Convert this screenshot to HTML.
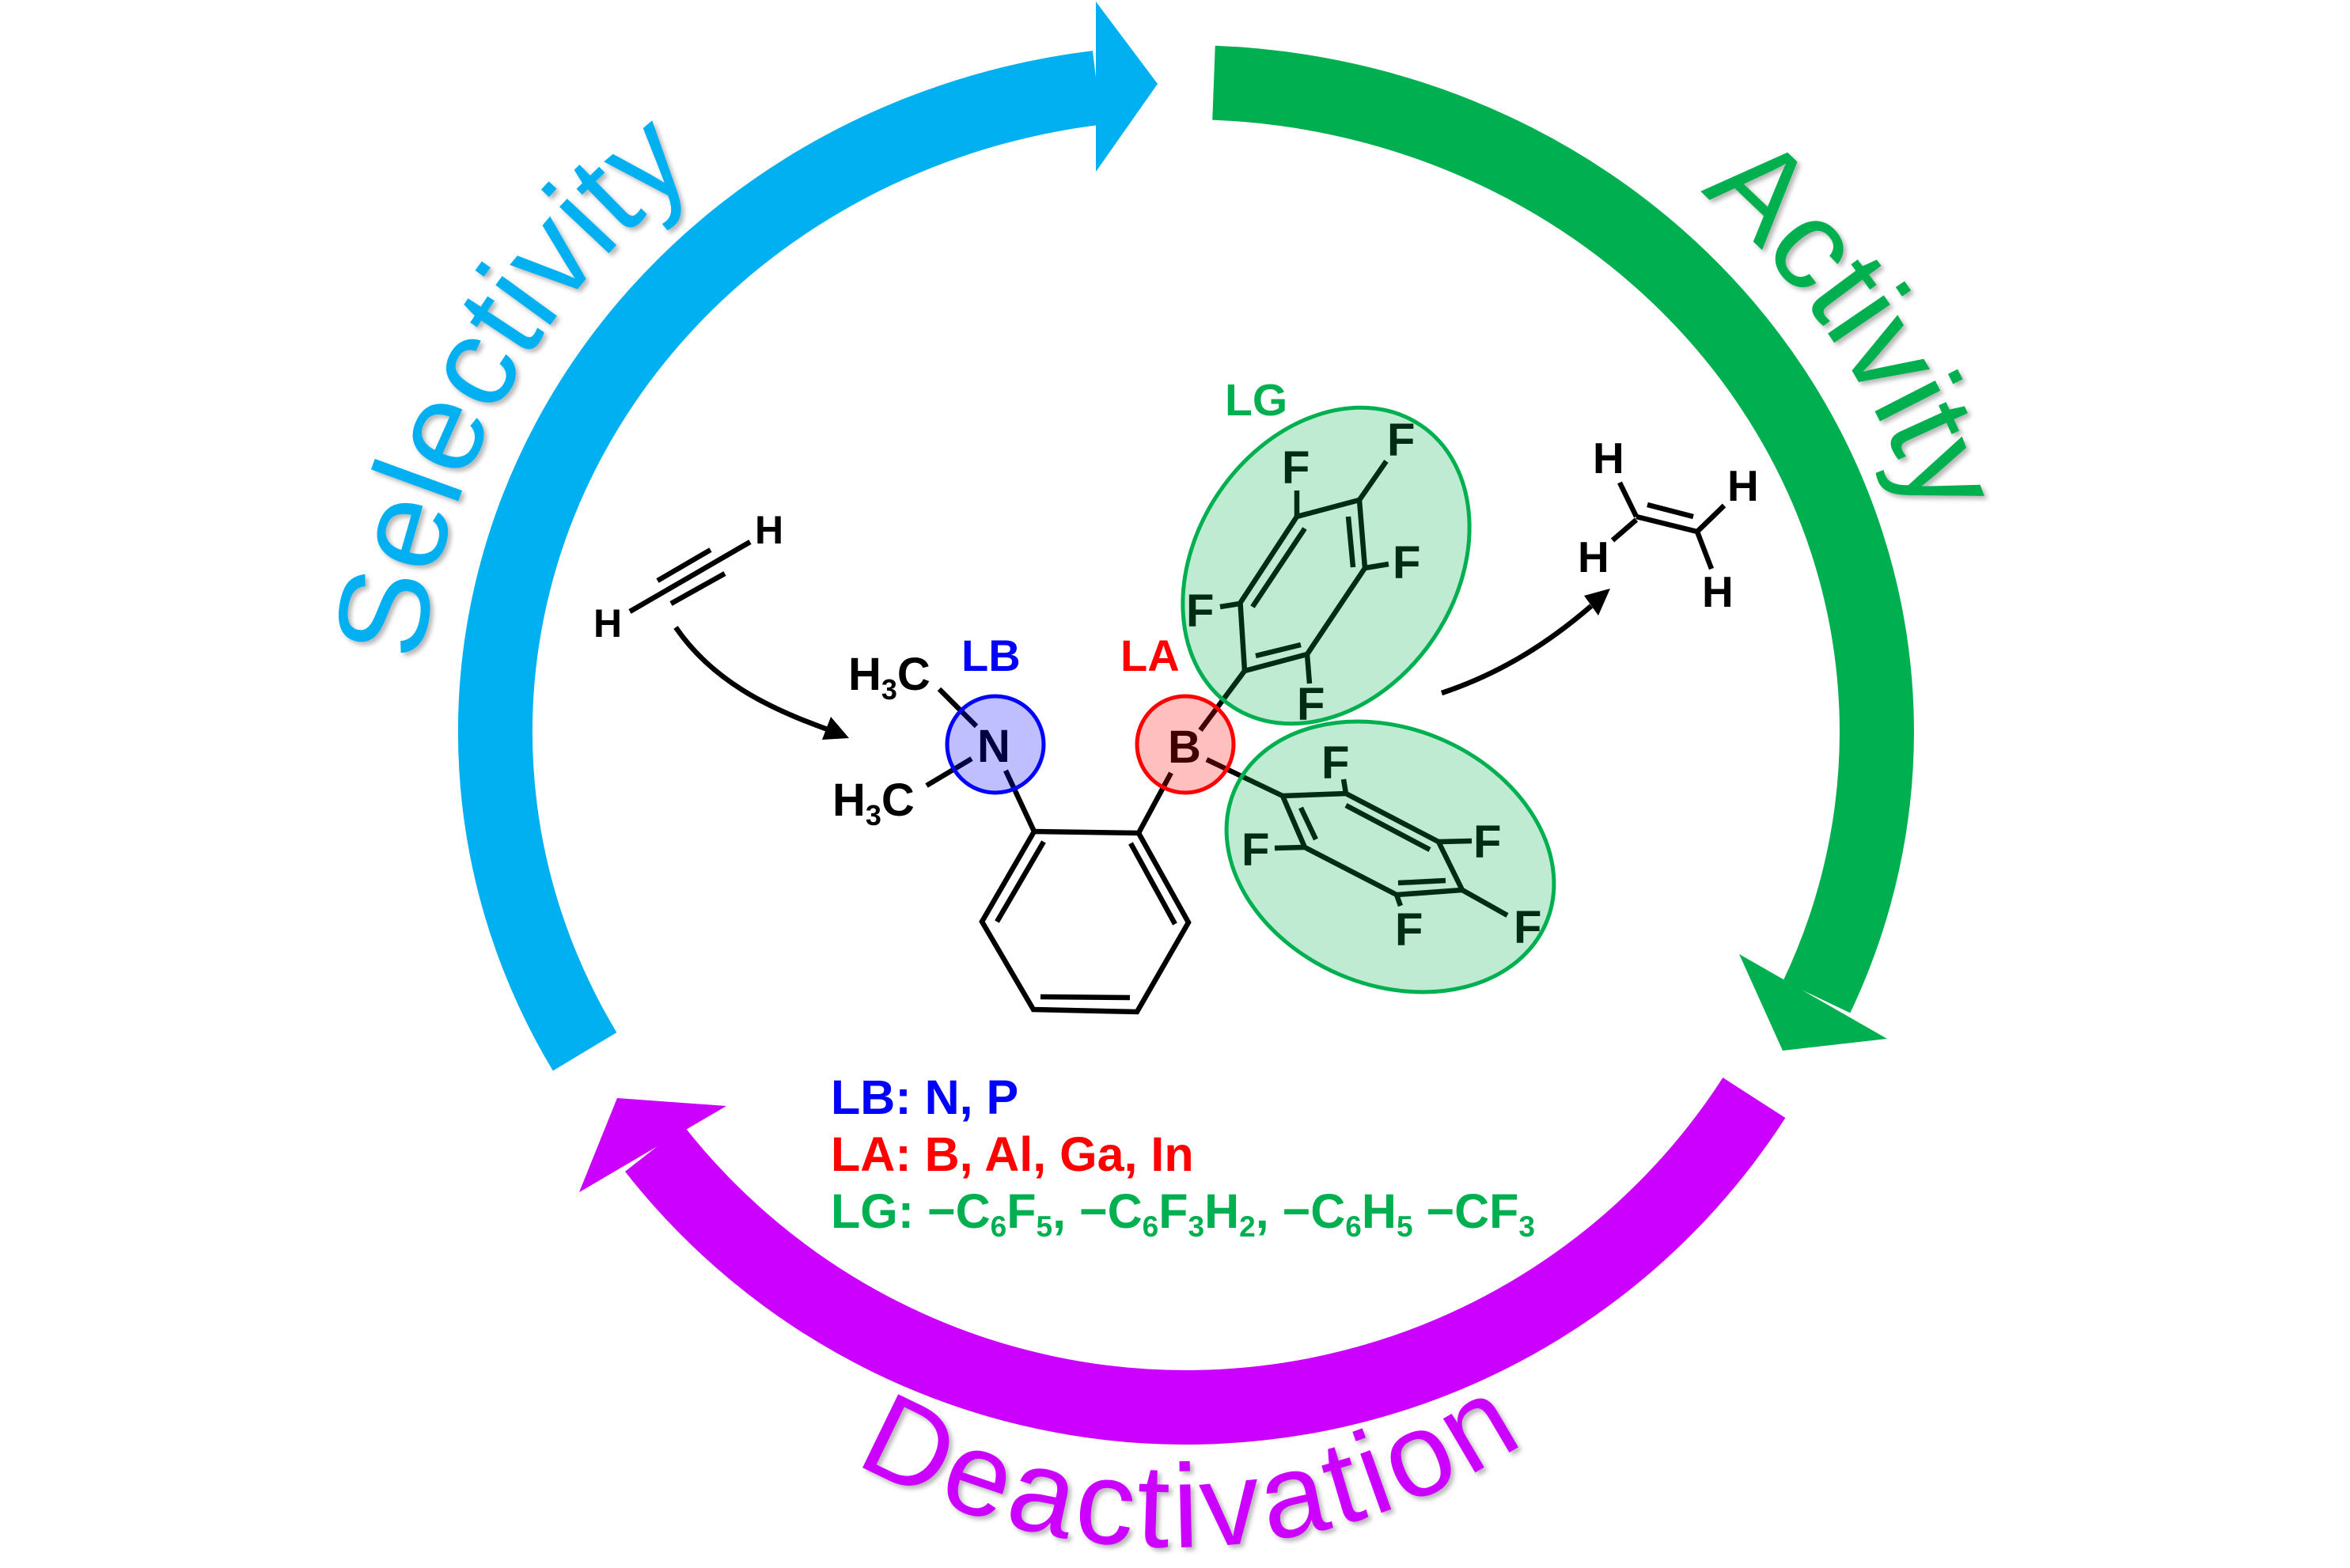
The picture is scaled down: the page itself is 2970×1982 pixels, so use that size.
<!DOCTYPE html>
<html>
<head>
<meta charset="utf-8">
<style>
  html, body { margin: 0; padding: 0; background: #ffffff; }
  svg { display: block; }
  .chem { font-family: "Liberation Sans", Arial, sans-serif; font-weight: bold; }
  .arc { font-family: "Liberation Sans", Arial, sans-serif; font-weight: normal; }
</style>
</head>
<body>
<svg width="2970" height="1982" viewBox="0 0 2970 1982" xmlns="http://www.w3.org/2000/svg">
  <defs>
    <filter id="sh" x="-10%" y="-10%" width="120%" height="120%">
      <feDropShadow dx="4" dy="4" stdDeviation="3" flood-color="#000" flood-opacity="0.28"/>
    </filter>
    <path id="pSel" d="M 533.5 837 A 970 918 0 0 1 882 216.7"/>
    <path id="pAct" d="M 2148 242.8 A 970 918 0 0 1 2426.6 656.6"/>
    <path id="pDea" d="M 1080 1848 A 800 790 0 0 0 1935 1818"/>
  </defs>

  <rect width="2970" height="1982" fill="#ffffff"/>

  <!-- Big cycle arcs -->
  <path d="M 739.1 1329.3 A 873 821 0 0 1 1386.6 110.8" fill="none" stroke="#00b0f0" stroke-width="94" stroke-linecap="butt"/>
  <polygon points="1385,2 1463,106 1385,217" fill="#00b0f0"/>

  <path d="M 1534 104.7 A 873 821 0 0 1 2295.9 1260.2" fill="none" stroke="#00b050" stroke-width="94" stroke-linecap="butt"/>
  <polygon points="2198,1206 2253,1328 2385,1313" fill="#00b050"/>

  <path d="M 2216.9 1387.6 A 854 854 0 0 1 827 1451.9" fill="none" stroke="#cc00ff" stroke-width="94" stroke-linecap="butt"/>
  <polygon points="918,1398 780,1388 732,1507" fill="#cc00ff"/>

  <!-- Arc labels -->
  <text class="arc" font-size="162" fill="#00b0f0" filter="url(#sh)" letter-spacing="0"><textPath href="#pSel">Selectivity</textPath></text>
  <text class="arc" font-size="162" fill="#00b050" filter="url(#sh)" letter-spacing="-1"><textPath href="#pAct">Activity</textPath></text>
  <text class="arc" font-size="150" fill="#cc00ff" filter="url(#sh)" letter-spacing="6"><textPath href="#pDea">Deactivation</textPath></text>

  <!-- Molecule bonds -->
  <g stroke="#000" stroke-width="6.5" fill="none" stroke-linecap="butt" stroke-linejoin="miter">
    <!-- acetylene -->
    <line x1="796" y1="773" x2="948" y2="685"/>
    <line x1="831" y1="734" x2="898" y2="695"/>
    <line x1="848" y1="763" x2="916" y2="725"/>
    <!-- benzene -->
    <polygon points="1307,1051 1439,1053 1502,1166 1437,1279 1306,1276 1241,1165"/>
    <line x1="1319" y1="1064" x2="1260" y2="1165"/>
    <line x1="1429" y1="1066" x2="1485" y2="1168"/>
    <line x1="1315" y1="1260" x2="1428" y2="1261"/>
    <line x1="1271" y1="974" x2="1307" y2="1051"/>
    <line x1="1480" y1="977" x2="1439" y2="1053"/>
    <!-- N methyls -->
    <line x1="1187" y1="871" x2="1234" y2="918"/>
    <line x1="1171" y1="993" x2="1228" y2="959"/>
    <!-- upper C6F5 -->
    <polygon points="1573,848 1567.5,762 1639,653 1718,632 1725,718 1652,827"/>
    <line x1="1583" y1="767" x2="1649" y2="668"/>
    <line x1="1704" y1="653" x2="1710" y2="717"/>
    <line x1="1587" y1="829" x2="1644" y2="815"/>
    <line x1="1542" y1="767" x2="1567" y2="763"/>
    <line x1="1639" y1="620" x2="1639" y2="653"/>
    <line x1="1752" y1="583" x2="1718" y2="632"/>
    <line x1="1725" y1="718" x2="1755" y2="713"/>
    <line x1="1652" y1="827" x2="1655" y2="864"/>
    <line x1="1517" y1="923" x2="1573" y2="848"/>
    <!-- lower C6F5 -->
    <polygon points="1621,1006 1701,1003 1818,1064 1848,1125 1765,1131 1649,1071"/>
    <line x1="1644" y1="1021" x2="1663" y2="1061"/>
    <line x1="1701" y1="1018" x2="1807" y2="1074"/>
    <line x1="1767" y1="1116" x2="1827" y2="1113"/>
    <line x1="1698" y1="985" x2="1701" y2="1003"/>
    <line x1="1818" y1="1064" x2="1860" y2="1063"/>
    <line x1="1848" y1="1125" x2="1905" y2="1157"/>
    <line x1="1765" y1="1131" x2="1770" y2="1145"/>
    <line x1="1611" y1="1072" x2="1649" y2="1071"/>
    <line x1="1525" y1="960" x2="1621" y2="1006"/>
    <!-- ethylene -->
    <line x1="2068" y1="653" x2="2145" y2="672"/>
    <line x1="2082" y1="638" x2="2140" y2="653"/>
    <line x1="2047" y1="610" x2="2068" y2="653"/>
    <line x1="2038" y1="683" x2="2068" y2="657"/>
    <line x1="2145" y1="672" x2="2179" y2="639"/>
    <line x1="2145" y1="672" x2="2163" y2="719"/>
    <!-- curved arrows -->
    <path d="M 854 793 C 900 860 970 895 1046 922"/>
    <path d="M 1822 876 C 1900 850 1960 810 2011 766"/>
  </g>
  <polygon points="1073,933 1039,935 1050,906" fill="#000"/>
  <polygon points="2035,744 2002,753 2020,778" fill="#000"/>

  <!-- Molecule labels -->
  <g class="chem" fill="#000">
    <text x="750" y="805" font-size="50">H</text>
    <text x="954" y="687" font-size="50">H</text>

    <text x="1072" y="872" font-size="58">H<tspan font-size="36" dy="12">3</tspan><tspan dy="-12">C</tspan></text>
    <text x="1052" y="1031" font-size="58">H<tspan font-size="36" dy="12">3</tspan><tspan dy="-12">C</tspan></text>
    <text x="1256" y="963" font-size="58" text-anchor="middle">N</text>
    <text x="1497" y="964" font-size="58" text-anchor="middle">B</text>

    <text x="1499" y="792" font-size="58">F</text>
    <text x="1620" y="611" font-size="58">F</text>
    <text x="1753" y="576" font-size="58">F</text>
    <text x="1760" y="731" font-size="58">F</text>
    <text x="1639" y="910" font-size="58">F</text>

    <text x="1670" y="984" font-size="58">F</text>
    <text x="1862" y="1084" font-size="58">F</text>
    <text x="1913" y="1192" font-size="58">F</text>
    <text x="1763" y="1195" font-size="58">F</text>
    <text x="1569" y="1094" font-size="58">F</text>

    <text x="2013" y="598" font-size="55">H</text>
    <text x="1994" y="723" font-size="55">H</text>
    <text x="2183" y="633" font-size="55">H</text>
    <text x="2151" y="767" font-size="55">H</text>
  </g>

  <text class="chem" x="1215" y="848" font-size="56" fill="#0000ff">LB</text>
  <text class="chem" x="1416" y="848" font-size="56" fill="#ff0000">LA</text>
  <text class="chem" x="1548" y="525" font-size="57" fill="#00b050">LG</text>

  <!-- Translucent overlays -->
  <ellipse cx="1676" cy="715" rx="214" ry="164" transform="rotate(-56 1676 715)" fill="rgba(0,176,80,0.25)" stroke="#00b050" stroke-width="5"/>
  <ellipse cx="1757" cy="1083" rx="214" ry="162" transform="rotate(23 1757 1083)" fill="rgba(0,176,80,0.25)" stroke="#00b050" stroke-width="5"/>
  <circle cx="1258" cy="941" r="61" fill="rgba(0,0,255,0.25)" stroke="#0000ff" stroke-width="5"/>
  <circle cx="1498" cy="941" r="61" fill="rgba(255,0,0,0.25)" stroke="#ff0000" stroke-width="5"/>

  <!-- Legend -->
  <text class="chem" x="1050" y="1408" font-size="61" fill="#0000ff">LB: N, P</text>
  <text class="chem" x="1050" y="1480" font-size="61" fill="#ff0000">LA: B, Al, Ga, In</text>
  <text class="chem" x="1050" y="1552" font-size="61" fill="#00b050">LG: −C<tspan font-size="37" dy="11">6</tspan><tspan dy="-11">F</tspan><tspan font-size="37" dy="11">5</tspan><tspan dy="-11">, −C</tspan><tspan font-size="37" dy="11">6</tspan><tspan dy="-11">F</tspan><tspan font-size="37" dy="11">3</tspan><tspan dy="-11">H</tspan><tspan font-size="37" dy="11">2</tspan><tspan dy="-11">, −C</tspan><tspan font-size="37" dy="11">6</tspan><tspan dy="-11">H</tspan><tspan font-size="37" dy="11">5</tspan><tspan dy="-11"> −CF</tspan><tspan font-size="37" dy="11">3</tspan></text>
</svg>
</body>
</html>
